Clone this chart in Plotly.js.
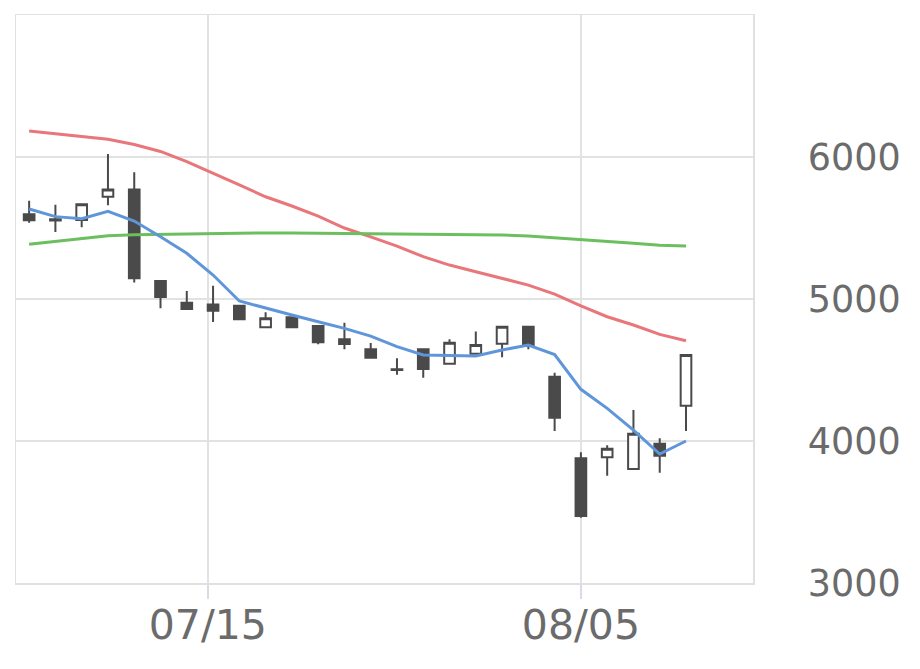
<!DOCTYPE html>
<html>
<head>
<meta charset="utf-8">
<script src="https://cdn.plot.ly/plotly-3.0.1.min.js"></script>
<style>html,body{margin:0;padding:0;background:#fff;}#chart{width:920px;height:669px;}</style>
</head>
<body>
<div id="chart"></div>
<script>
const dates = ["2024-07-04","2024-07-05","2024-07-08","2024-07-09","2024-07-10","2024-07-11","2024-07-12",
  "2024-07-16","2024-07-17","2024-07-18","2024-07-19","2024-07-22","2024-07-23","2024-07-24","2024-07-25","2024-07-26",
  "2024-07-29","2024-07-30","2024-07-31","2024-08-01","2024-08-02","2024-08-05","2024-08-06","2024-08-07","2024-08-08","2024-08-09"];
const openV  = [5596,5561,5556,5720,5772,5127,4974,4962,4953,4801,4871,4810,4716,4646,4505,4646,4544,4615,4685,4805,4453,3878,3885,3803,3981,4249];
const highV  = [5692,5664,5667,6021,5892,5130,5056,5094,4960,4906,4878,4815,4833,4690,4582,4650,4716,4772,4808,4808,4481,3920,3970,4218,4019,4610];
const lowV   = [5537,5472,5505,5660,5117,4934,4925,4838,4850,4799,4799,4681,4646,4585,4467,4446,4540,4612,4589,4646,4070,3460,3756,3800,3777,4070];
const closeV = [5555,5553,5667,5772,5146,5014,4929,4917,4857,4864,4801,4695,4683,4587,4500,4507,4692,4676,4805,4671,4164,3472,3946,4051,3896,4606];
const maShort = [5634,5580,5565,5617,5549,5439,5322,5169,4986,4934,4887,4840,4793,4739,4664,4606,4602,4599,4641,4676,4609,4364,4230,4077,3908,4000];
const maMid   = [6183,6162,6144,6125,6088,6039,5967,5887,5803,5720,5655,5584,5500,5437,5373,5298,5239,5192,5146,5098,5035,4951,4875,4817,4751,4706];
const maLong  = [5385,5405,5426,5446,5453,5456,5460,5461,5463,5465,5465,5463,5463,5463,5460,5458,5456,5453,5451,5444,5432,5415,5403,5392,5378,5373];
const xTickPos = [6.8, 21];
const xTickText = ["07/15","08/05"];
const yTicks = [3000,4000,5000,6000];

const dark = "#4a4a4a";
const traces = [
  {type:"candlestick", x:dates, open:openV, high:highV, low:lowV, close:closeV,
   increasing:{line:{color:dark,width:2}, fillcolor:"#ffffff"},
   decreasing:{line:{color:dark,width:2}, fillcolor:dark},
   whiskerwidth:0, hoverinfo:"skip", showlegend:false},
  {type:"scatter", mode:"lines", x:dates, y:maMid, line:{color:"#e8767a",width:3}, showlegend:false},
  {type:"scatter", mode:"lines", x:dates, y:maLong, line:{color:"#6cbf5f",width:3}, showlegend:false},
  {type:"scatter", mode:"lines", x:dates, y:maShort, line:{color:"#5f96da",width:3}, showlegend:false}
];
const layout = {
  width:920, height:669,
  margin:{l:16, r:167, t:15, b:86},
  paper_bgcolor:"#ffffff", plot_bgcolor:"#ffffff",
  font:{family:"DejaVu Sans", size:36, color:"#6b6b6b"},
  showlegend:false,
  boxgap:0.42,
  xaxis:{type:"category", range:[-0.5,27.55], tickmode:"array", tickvals:xTickPos, ticktext:xTickText,
    tickfont:{family:"DejaVu Sans", size:41, color:"#6b6b6b"},
    showgrid:true, gridcolor:"#e2e2e2", gridwidth:1.5,
    showline:true, mirror:true, linecolor:"#e0e0e0", linewidth:1.5,
    ticks:"outside", ticklen:14, tickcolor:"#d3dcea", tickwidth:1.5, ticklabelstandoff:-9,
    rangeslider:{visible:false}, zeroline:false, fixedrange:true},
  yaxis:{side:"right", range:[3000,7000], tickmode:"array", tickvals:yTicks,
    tickfont:{family:"DejaVu Sans", size:36.5, color:"#6b6b6b"},
    showgrid:true, gridcolor:"#e2e2e2", gridwidth:1.5,
    showline:true, mirror:true, linecolor:"#e0e0e0", linewidth:1.5,
    ticks:"", ticklabelstandoff:46, zeroline:false, fixedrange:true}
};
Plotly.newPlot("chart", traces, layout, {displayModeBar:false, staticPlot:true});
</script>
</body>
</html>
